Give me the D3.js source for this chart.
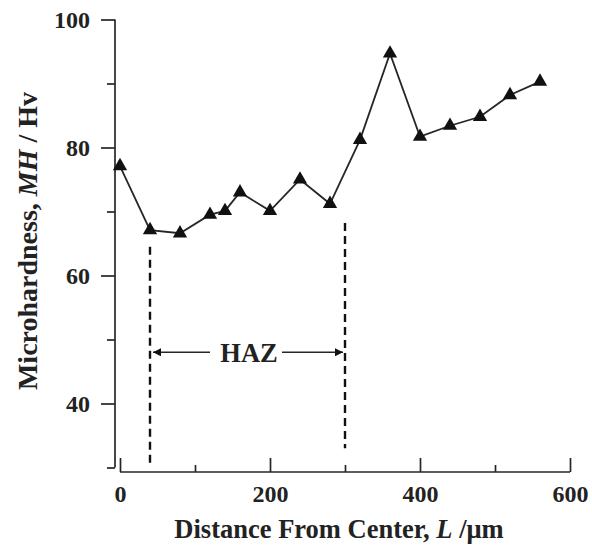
<!DOCTYPE html>
<html lang="en">
<head>
    <meta charset="UTF-8">
    <script src="https://d3js.org/d3.v7.min.js"></script>
    <style>
        body {margin: 0; background-color: #ffffff}
        svg {display: block}
        text {font-family: "Liberation Serif", "Times New Roman", serif; font-weight: bold; fill: #222}
    </style>
</head>
<body>
<svg class="chart"></svg>
<script type="text/javascript">
    // values
    const distance = [0, 40, 80, 120, 140, 160, 200, 240, 280, 320, 360, 400, 440, 480, 520, 560];
    const hardness = [77.1, 67.1, 66.6, 69.5, 70.1, 73, 70.1, 75, 71.2, 81.2, 94.7, 81.7, 83.4, 84.8, 88.2, 90.3];
    const xMajor = [0, 200, 400, 600];
    const xMinor = [100, 300, 500];
    const yMajor = [40, 60, 80, 100];
    const yMinor = [30, 50, 70, 90];
    const hazBounds = [40, 300];

    let width = 592;
    let height = 546;

    var svg = d3.select(".chart").attr("width", width).attr("height", height);

    var x = d3.scaleLinear().domain([0, 600]).range([120, 570]);
    var y = d3.scaleLinear().domain([30, 100]).range([467.5, 19.5]);

    let ink = "#262626";

    // y axis (ticks point outward)
    svg.append("g").attr("transform", "translate(115,0)")
        .call(d3.axisLeft(y).tickValues(yMajor).tickSize(14).tickPadding(11).tickFormat(d3.format("d")))
        .call(g => g.select(".domain").attr("d", "M0," + y(100) + "V" + y(30)))
        .call(g => g.selectAll("line, path").attr("stroke", ink).attr("stroke-width", 1.7))
        .call(g => g.selectAll("text").attr("font-size", 24).attr("font-family", "Liberation Serif").attr("font-weight", "bold").attr("fill", ink));
    svg.append("g").attr("transform", "translate(115,0)")
        .call(d3.axisLeft(y).tickValues(yMinor).tickSize(8).tickFormat(""))
        .call(g => g.select(".domain").remove())
        .call(g => g.selectAll("line").attr("stroke", ink).attr("stroke-width", 1.7));

    // x axis (ticks point inward)
    svg.append("g").attr("transform", "translate(0,472)")
        .call(d3.axisBottom(x).tickValues(xMajor).tickSize(-14).tickPadding(13).tickFormat(d3.format("d")))
        .call(g => g.select(".domain").attr("d", "M" + x(0) + ",0H" + x(600)))
        .call(g => g.selectAll("line, path").attr("stroke", ink).attr("stroke-width", 1.7))
        .call(g => g.selectAll("text").attr("dy", "0.71em").attr("font-size", 24).attr("font-family", "Liberation Serif").attr("font-weight", "bold").attr("fill", ink));
    svg.append("g").attr("transform", "translate(0,472)")
        .call(d3.axisBottom(x).tickValues(xMinor).tickSize(-7).tickFormat(""))
        .call(g => g.select(".domain").remove())
        .call(g => g.selectAll("line").attr("stroke", ink).attr("stroke-width", 1.7));

    // HAZ boundaries
    svg.append("line").attr("x1", x(hazBounds[0])).attr("x2", x(hazBounds[0]))
        .attr("y1", y(64.5)).attr("y2", y(30.2))
        .attr("stroke", "#111").attr("stroke-width", 2.4).attr("stroke-dasharray", "8,5");
    svg.append("line").attr("x1", x(hazBounds[1])).attr("x2", x(hazBounds[1]))
        .attr("y1", y(68.2)).attr("y2", y(33))
        .attr("stroke", "#111").attr("stroke-width", 2.4).attr("stroke-dasharray", "8,5");

    svg.append("defs").append("marker").attr("id", "arrow")
        .attr("viewBox", "0 0 10 10").attr("refX", 10).attr("refY", 5)
        .attr("markerWidth", 11).attr("markerHeight", 8).attr("markerUnits", "userSpaceOnUse")
        .attr("orient", "auto")
        .append("path").attr("d", "M0,0L10,5L0,10Z").attr("fill", "#111");

    let hazY = y(48);
    svg.append("line").attr("x1", x(120)).attr("x2", x(hazBounds[0]) + 3)
        .attr("y1", hazY).attr("y2", hazY)
        .attr("stroke", ink).attr("stroke-width", 1.6).attr("marker-end", "url(#arrow)");
    svg.append("line").attr("x1", x(216)).attr("x2", x(hazBounds[1]) - 2)
        .attr("y1", hazY).attr("y2", hazY)
        .attr("stroke", ink).attr("stroke-width", 1.6).attr("marker-end", "url(#arrow)");
    svg.append("text").attr("x", x(172)).attr("y", hazY + 10).attr("text-anchor", "middle")
        .attr("font-size", 26.5).text("HAZ");

    // data line + triangle markers
    var pts = distance.map((d, i) => [d, hardness[i]]);
    svg.append("path").datum(pts)
        .attr("d", d3.line().x(d => x(d[0])).y(d => y(d[1])))
        .attr("fill", "none").attr("stroke", ink).attr("stroke-width", 1.8);

    svg.append("g").selectAll("path").data(pts).enter().append("path")
        .attr("transform", d => "translate(" + x(d[0]) + "," + y(d[1]) + ")")
        .attr("d", d3.symbol().type(d3.symbolTriangle).size(88))
        .attr("fill", "#111");

    // axis titles
    let xt = svg.append("text").attr("x", 339).attr("y", 538).attr("text-anchor", "middle").attr("font-size", 26.5);
    xt.append("tspan").text("Distance From Center, ");
    xt.append("tspan").attr("font-style", "italic").text("L");
    xt.append("tspan").text(" /\u03bcm");

    let yt = svg.append("text").attr("transform", "translate(37,241) rotate(-90)").attr("text-anchor", "middle").attr("font-size", 28);
    yt.append("tspan").text("Microhardness, ");
    yt.append("tspan").attr("font-style", "italic").text("MH");
    yt.append("tspan").text(" / Hv");
</script>
</body>
</html>
